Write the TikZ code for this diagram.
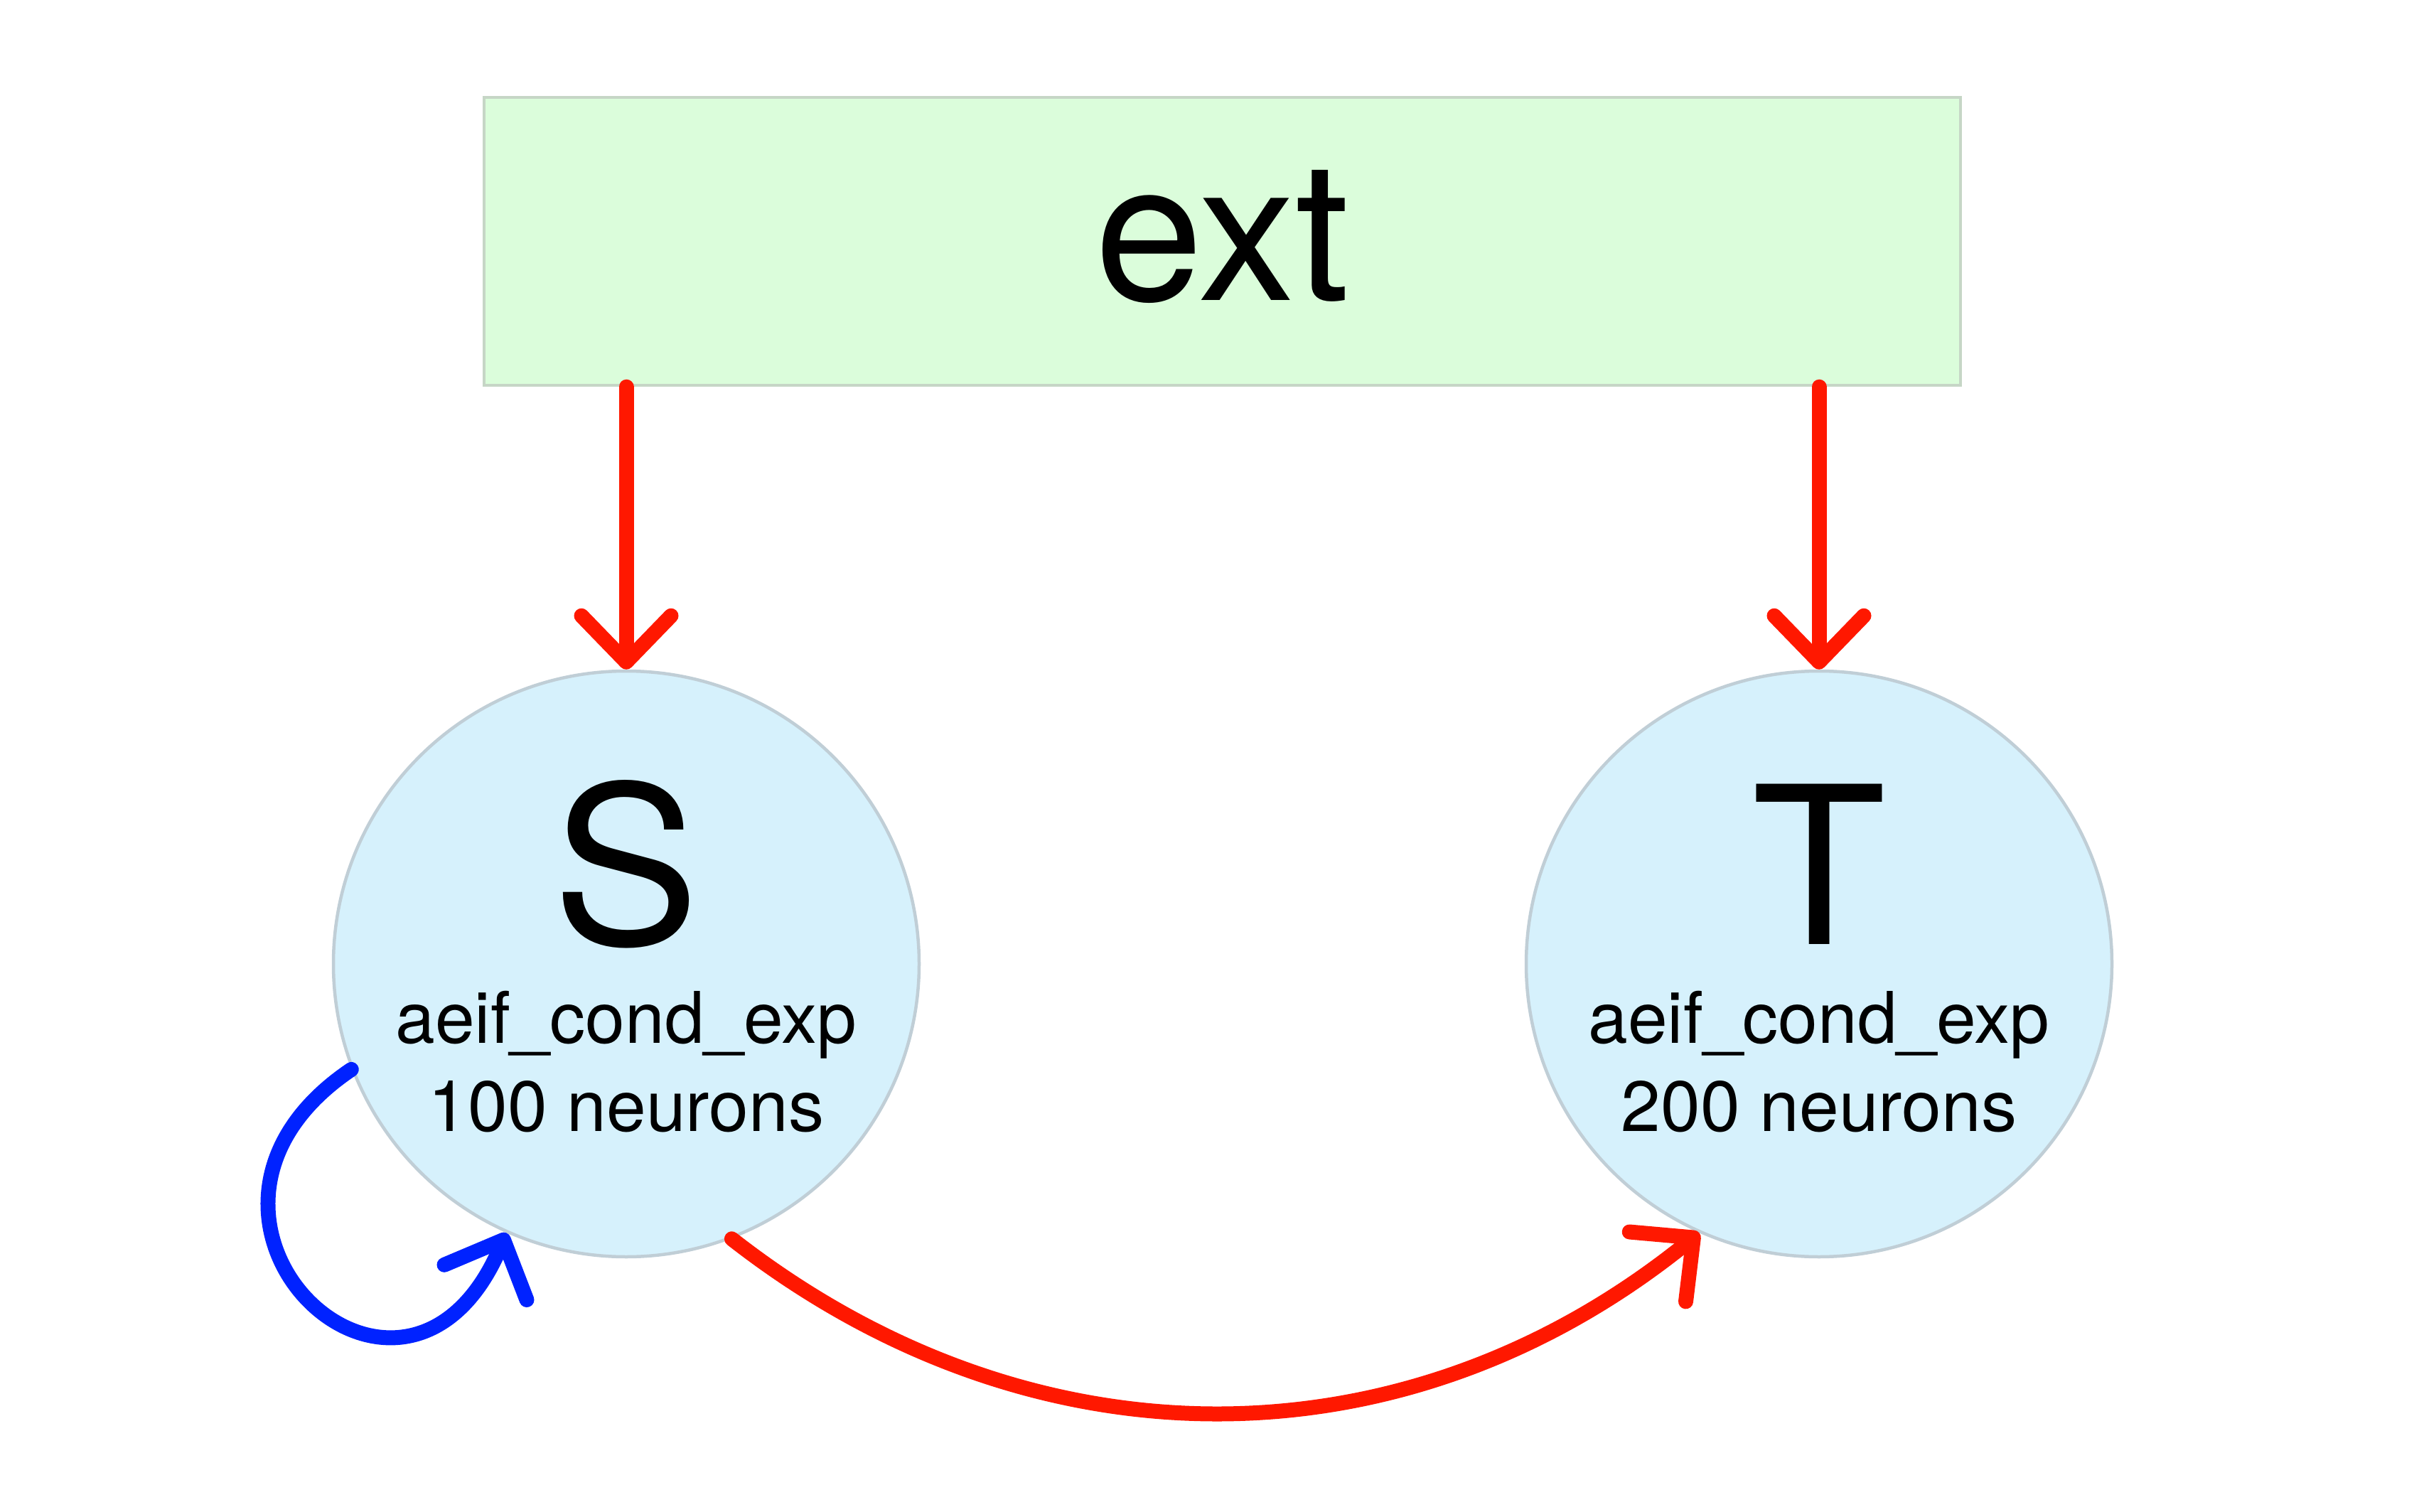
\documentclass[tikz,border=0pt]{standalone}
\usepackage{fontspec}
\setmainfont{TeX Gyre Heros}
\usetikzlibrary{arrows.meta}
\definecolor{extgreen}{RGB}{219,253,219}
\definecolor{extedge}{RGB}{198,214,198}
\definecolor{popblue}{RGB}{214,241,252}
\definecolor{popedge}{RGB}{192,206,214}
\definecolor{exred}{RGB}{255,24,0}
\definecolor{inblue}{RGB}{0,34,255}
\tikzset{
  gen/.style={rectangle, fill=extgreen, draw=extedge, line width=0.045cm,
    minimum width=20.77cm, minimum height=4.05cm, inner sep=0pt},
  pop/.style={circle, fill=popblue, draw=popedge, line width=0.045cm,
    minimum size=8.24cm, inner sep=0pt},
  bigname/.style={font=\fontsize{88}{88}\selectfont, inner sep=0pt, anchor=base},
  info/.style={font=\fontsize{28.5}{28.5}\selectfont, inner sep=0pt, anchor=base},
  syn/.style={line width=0.21cm, line cap=round, line join=round,
    -{Straight Barb[length=0.65cm, width=1.26cm, line cap=round, line join=round]}},
  exc/.style={syn, draw=exred},
  inh/.style={syn, draw=inblue}
}

\begin{document}
\begin{tikzpicture}
\useasboundingbox (0,0) rectangle (34.03,21.26);
\node[gen] (ext) at (17.195,17.865) {};
\node[font=\fontsize{78}{78}\selectfont, inner sep=0pt, anchor=base] (extname) at ([yshift=-0.83cm]ext.center) {ext};
\node[pop] (S) at (8.81,7.70) {};
\node[pop] (T) at (25.59,7.70) {};
\node[bigname] (Sname) at ([yshift=0.28cm]S.center) {S};
\node[info] (Smodel) at ([yshift=-1.11cm]S.center) {aeif\_cond\_exp};
\node[info] (Ssize) at ([yshift=-2.35cm]S.center) {100 neurons};
\node[bigname] (Tname) at ([yshift=0.28cm]T.center) {T};
\node[info] (Tmodel) at ([yshift=-1.11cm]T.center) {aeif\_cond\_exp};
\node[info] (Tsize) at ([yshift=-2.35cm]T.center) {200 neurons};
\draw[exc] (ext.south -| S.north) -- (S.north);
\draw[exc] (ext.south -| T.north) -- (T.north);
\draw[inh] (S.201) to[out=214, in=247, looseness=3.0] (S.246);
\draw[exc] (S.291) to[out=-38, in=219] (T.246);
\end{tikzpicture}
\end{document}
